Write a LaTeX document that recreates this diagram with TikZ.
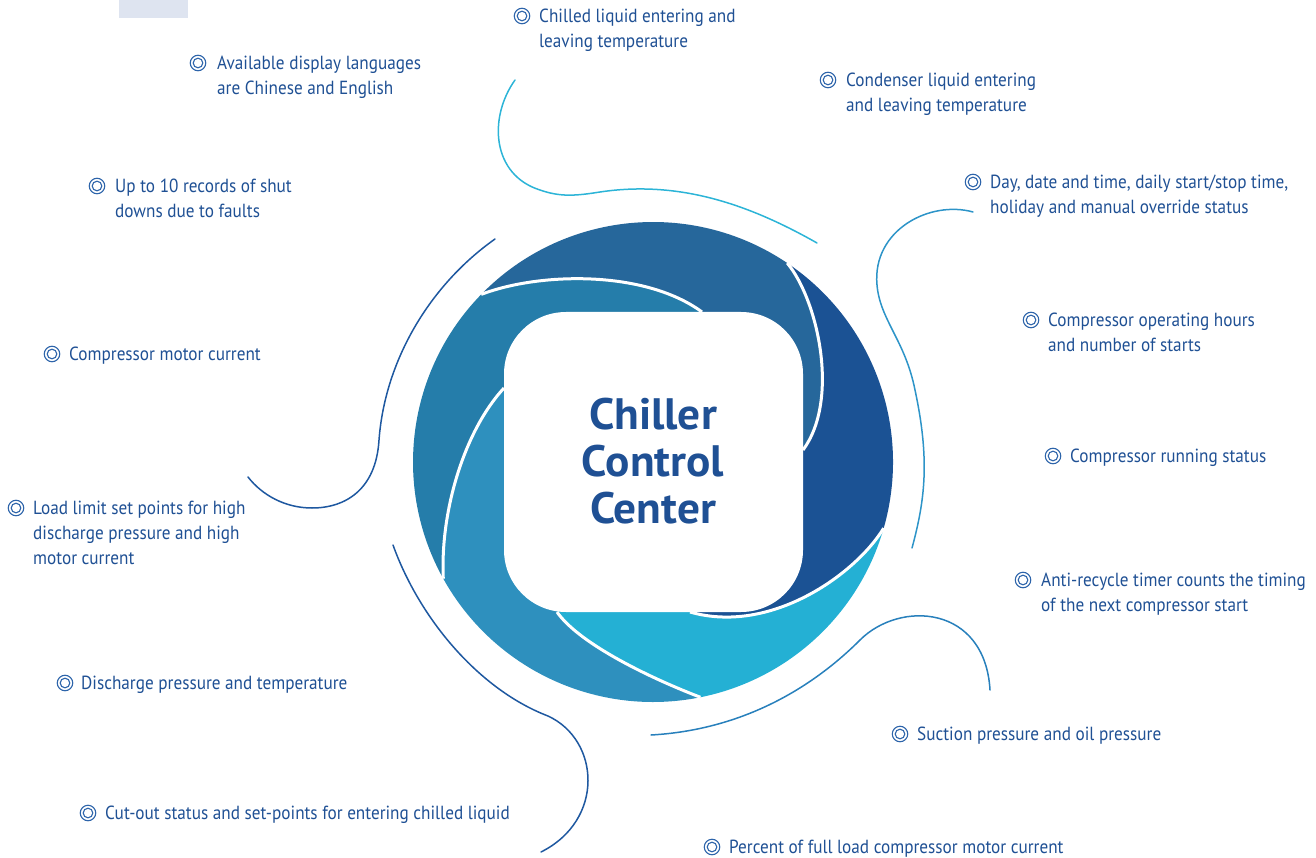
\documentclass[tikz,border=0pt]{standalone}
\usepackage{fontspec}
\setmainfont{PT Sans}[FakeStretch=0.905]
\newfontfamily\titlefont{PT Sans}[FakeStretch=1.03]
\usetikzlibrary{calc}
\definecolor{txtc}{RGB}{31,80,148}
\definecolor{bulc}{RGB}{45,100,170}
\definecolor{ctop}{RGB}{38,103,155}
\definecolor{cright}{RGB}{27,82,148}
\definecolor{cbottom}{RGB}{36,176,212}
\definecolor{cbl}{RGB}{46,144,190}
\definecolor{cleft}{RGB}{37,125,170}
\definecolor{lcyan}{RGB}{44,180,215}
\definecolor{lmid}{RGB}{45,148,200}
\definecolor{ldark}{RGB}{30,88,160}
\definecolor{lbot}{RGB}{40,128,188}
\definecolor{tabc}{RGB}{222,228,240}
\begin{document}
\begin{tikzpicture}[x=1pt,y=-1pt,
  lbl/.style={anchor=base west, inner sep=0pt, text=txtc, font=\fontsize{19}{25}\selectfont},
  bul/.style={circle, draw=bulc, line width=1.1pt, minimum size=15.5pt, inner sep=0pt,
    path picture={\draw[bulc, line width=1.1pt] (path picture bounding box.center) circle[radius=4.8pt];}},
  deco/.style={line width=1.5pt, line cap=round},
  seam/.style={draw=white, line width=3pt}]
\useasboundingbox (0,0) rectangle (1316,858);
\fill[tabc] (119,0) rectangle (188,18);
% ring
\coordinate (C) at (653,462);
\coordinate (A1) at ($(C)+(135.7:240pt)$);
\coordinate (A2) at ($(C)+(56:240pt)$);
\coordinate (A3) at ($(C)+(-16:240pt)$);
\coordinate (A4) at ($(C)+(-78.6:240pt)$);
\coordinate (A5) at ($(C)+(-150.9:240pt)$);
\coordinate (S1) at (702,312);
\coordinate (S2) at (803,450);
\coordinate (S3) at (690,612);
\coordinate (S4) at (557,612);
\coordinate (S5) at (504,388);
\fill[ctop] (A1) arc[start angle=135.7, end angle=56, radius=240pt]
  .. controls (818,300) and (840,400) .. (S2) -- (C) -- (S1)
  .. controls (645,270) and (540,272) .. (A1) -- cycle;
\fill[cright] (A2) arc[start angle=56, end angle=-16, radius=240pt]
  .. controls (855,575) and (770,635) .. (S3) -- (C) -- (S2)
  .. controls (840,400) and (818,300) .. (A2) -- cycle;
\fill[cbottom] (A3) arc[start angle=-16, end angle=-78.6, radius=240pt]
  .. controls (655,680) and (580,645) .. (S4) -- (C) -- (S3)
  .. controls (770,635) and (855,575) .. (A3) -- cycle;
\fill[cbl] (A4) arc[start angle=-78.6, end angle=-150.9, radius=240pt]
  .. controls (440,510) and (465,430) .. (S5) -- (C) -- (S4)
  .. controls (580,645) and (655,680) .. (A4) -- cycle;
\fill[cleft] (A5) arc[start angle=-150.9, end angle=-224.3, radius=240pt]
  .. controls (540,272) and (645,270) .. (S1) -- (C) -- (S5)
  .. controls (465,430) and (440,510) .. (A5) -- cycle;
\draw[seam] (A1) .. controls (540,272) and (645,270) .. (S1);
\draw[seam] (A2) .. controls (818,300) and (840,400) .. (S2);
\draw[seam] (A3) .. controls (855,575) and (770,635) .. (S3);
\draw[seam] (A4) .. controls (655,680) and (580,645) .. (S4);
\draw[seam] (A5) .. controls (440,510) and (465,430) .. (S5);
\fill[white, rounded corners=62pt] (504,312) rectangle (803,612);
\node[inner sep=0pt, anchor=base, text=txtc, font=\titlefont\bfseries\fontsize{44}{47}\selectfont] (title) at (653,429)
  {\begin{tabular}[t]{@{}c@{}}Chiller\\Control\\Center\end{tabular}};
% decorative curves
\draw[deco, lcyan] (515,80) .. controls (488,118) and (492,175) .. (540,190)
  .. controls (560,197) and (575,196) .. (600,192)
  .. controls (680,180) and (750,205) .. (817,243);
\draw[deco, lmid] (973,212) .. controls (930,200) and (872,230) .. (877,285)
  .. controls (880,320) and (905,340) .. (915,390)
  .. controls (930,460) and (925,500) .. (912,548);
\draw[deco, ldark] (495,239) .. controls (430,285) and (385,360) .. (379,440)
  .. controls (376,490) and (345,508) .. (312,508)
  .. controls (285,508) and (262,495) .. (248,477);
\draw[deco, ldark] (393,545) .. controls (420,620) and (480,690) .. (548,716)
  .. controls (600,740) and (605,820) .. (541,852);
\draw[deco, lbot] (651,735) .. controls (740,730) and (810,690) .. (860,640)
  .. controls (900,600) and (985,605) .. (990,690);
% labels
\node[bul] (b1) at (522,16) {};
\node[lbl] (t1) at (539,22.7) {\begin{tabular}[t]{@{}l@{}}Chilled liquid entering and\\leaving temperature\end{tabular}};
\node[bul] (b2) at (828,80) {};
\node[lbl] (t2) at (846,86.7) {\begin{tabular}[t]{@{}l@{}}Condenser liquid entering\\and leaving temperature\end{tabular}};
\node[bul] (b3) at (973,182) {};
\node[lbl] (t3) at (990,188.7) {\begin{tabular}[t]{@{}l@{}}Day, date and time, daily start/stop time,\\holiday and manual override status\end{tabular}};
\node[bul] (b4) at (1031,320) {};
\node[lbl] (t4) at (1048,326.7) {\begin{tabular}[t]{@{}l@{}}Compressor operating hours\\and number of starts\end{tabular}};
\node[bul] (b5) at (1053,456) {};
\node[lbl] (t5) at (1070,462.7) {Compressor running status};
\node[bul] (b6) at (1023,580) {};
\node[lbl] (t6) at (1041,586.7) {\begin{tabular}[t]{@{}l@{}}Anti-recycle timer counts the timing\\of the next compressor start\end{tabular}};
\node[bul] (b7) at (900,734) {};
\node[lbl] (t7) at (917,740.7) {Suction pressure and oil pressure};
\node[bul] (b8) at (712,847) {};
\node[lbl] (t8) at (729,853.7) {Percent of full load compressor motor current};
\node[bul] (b9) at (88,813) {};
\node[lbl] (t9) at (105,819.7) {Cut-out status and set-points for entering chilled liquid};
\node[bul] (b10) at (65,683) {};
\node[lbl] (t10) at (81,689.7) {Discharge pressure and temperature};
\node[bul] (b11) at (16,508) {};
\node[lbl] (t11) at (33,514.7) {\begin{tabular}[t]{@{}l@{}}Load limit set points for high\\discharge pressure and high\\motor current\end{tabular}};
\node[bul] (b12) at (52,354) {};
\node[lbl] (t12) at (69,360.7) {Compressor motor current};
\node[bul] (b13) at (97,186) {};
\node[lbl] (t13) at (115,192.7) {\begin{tabular}[t]{@{}l@{}}Up to 10 records of shut\\downs due to faults\end{tabular}};
\node[bul] (b14) at (198,63) {};
\node[lbl] (t14) at (217,69.7) {\begin{tabular}[t]{@{}l@{}}Available display languages\\are Chinese and English\end{tabular}};
\end{tikzpicture}
\end{document}
